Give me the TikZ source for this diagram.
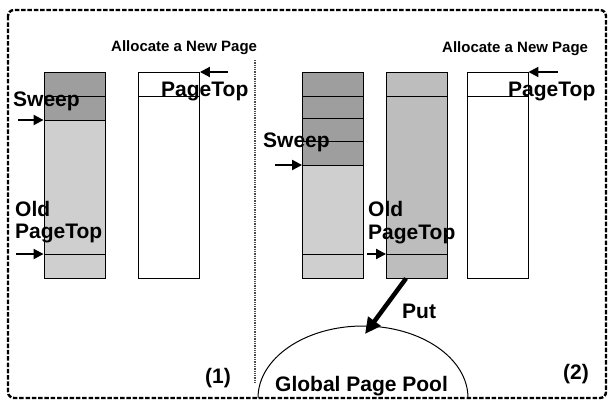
\documentclass[tikz,border=0pt]{standalone}
\usepackage{fontspec}
\setmainfont{Liberation Sans}
\usepackage{tikz}
\usetikzlibrary{arrows.meta,positioning,backgrounds}
\definecolor{pgdark}{gray}{0.62}
\definecolor{pgmid}{gray}{0.74}
\definecolor{pglight}{gray}{0.81}

\begin{document}
\begin{tikzpicture}[x=1pt, y=-1pt,
  page/.style={draw, line width=0.9pt, minimum width=61pt, minimum height=206pt, inner sep=0pt},
  lbl/.style={font=\bfseries\fontsize{21}{21}\selectfont, anchor=base west, inner sep=0pt},
  heading/.style={font=\bfseries\fontsize{15}{15}\selectfont, anchor=base west, inner sep=0pt},
  ptr/.style={line width=2pt, -{Triangle[length=10pt,width=10pt]}},
  rowline/.style={line width=0.8pt}]
  \useasboundingbox (0,0) rectangle (612,403);
  % frame and divider
  \draw[line width=2.4pt, dash pattern=on 4.5pt off 1.8pt, rounded corners=6pt] (8,10) rectangle (606,398);
  \draw[line width=1.3pt, densely dotted, black!70] (255,60) -- (255,384);

  % pages
  \node[page] (old1) at (74.5,175) {};
  \node[page] (new1) at (169,175) {};
  \node[page] (old2) at (333,175) {};
  \node[page] (put2) at (417,175) {};
  \node[page] (new2) at (497.5,175) {};

  \begin{scope}[on background layer]
    \fill[pglight] (old1.north west) rectangle (old1.south east);
    \fill[pgdark] (old1.north west) rectangle (old1.east |- 0,120);
    \fill[pglight] (old2.north west) rectangle (old2.south east);
    \fill[pgdark] (old2.north west) rectangle (old2.east |- 0,165);
    \fill[pgmid] (put2.north west) rectangle (put2.south east);
  \end{scope}

  \foreach \y in {96,120,254} \draw[rowline] (old1.west |- 0,\y) -- (old1.east |- 0,\y);
  \draw[rowline] (new1.west |- 0,96) -- (new1.east |- 0,96);
  \foreach \y in {96,118,141,165,254} \draw[rowline] (old2.west |- 0,\y) -- (old2.east |- 0,\y);
  \foreach \y in {96,254} \draw[rowline] (put2.west |- 0,\y) -- (put2.east |- 0,\y);
  \draw[rowline] (new2.west |- 0,96) -- (new2.east |- 0,96);

  % pointers
  \coordinate (sweepL) at (18,120);
  \draw[ptr] (sweepL) -- (sweepL -| old1.west);
  \coordinate (oldtopL) at (16,254);
  \draw[ptr] (oldtopL) -- (oldtopL -| old1.west);
  \coordinate (topL) at (228,72);
  \draw[ptr] (topL) -- (topL -| new1.east);
  \coordinate (sweepR) at (275,165);
  \draw[ptr] (sweepR) -- (sweepR -| old2.west);
  \coordinate (oldtopR) at (367,254);
  \draw[ptr] (oldtopR) -- (oldtopR -| put2.west);
  \coordinate (topR) at (558,72);
  \draw[ptr] (topR) -- (topR -| new2.east);

  % global pool
  \draw[line width=1pt] (258,398) arc[start angle=180, end angle=360, x radius=105, y radius=72];
  \coordinate (poolIn) at (365,334);
  \draw[line width=4.5pt, -{Triangle[length=16pt,width=15pt]}] ([xshift=-11pt]put2.south) -- (poolIn);

  % labels
  \node[heading] (alloc1) at (111,52) {Allocate a New Page};
  \node[heading] (alloc2) at (442,53) {Allocate a New Page};
  \node[lbl] (topLbl1) at (161,97) {PageTop};
  \node[lbl] (topLbl2) at (508,97) {PageTop};
  \node[lbl] (sweepLbl1) at (13,107) {Sweep};
  \node[lbl] (sweepLbl2) at (263,148) {Sweep};
  \node[lbl] (oldLbl1) at (15,216) {Old};
  \node[lbl] (oldTopLbl1) at (15,238) {PageTop};
  \node[lbl] (oldLbl2) at (368,216) {Old};
  \node[lbl] (oldTopLbl2) at (368,239) {PageTop};
  \node[lbl] (putLbl) at (402,318) {Put};
  \node[lbl] (poolLbl) at (275,391) {Global Page Pool};
  \node[lbl] (case1) at (205,383) {(1)};
  \node[lbl] (case2) at (563,379) {(2)};
\end{tikzpicture}
\end{document}
